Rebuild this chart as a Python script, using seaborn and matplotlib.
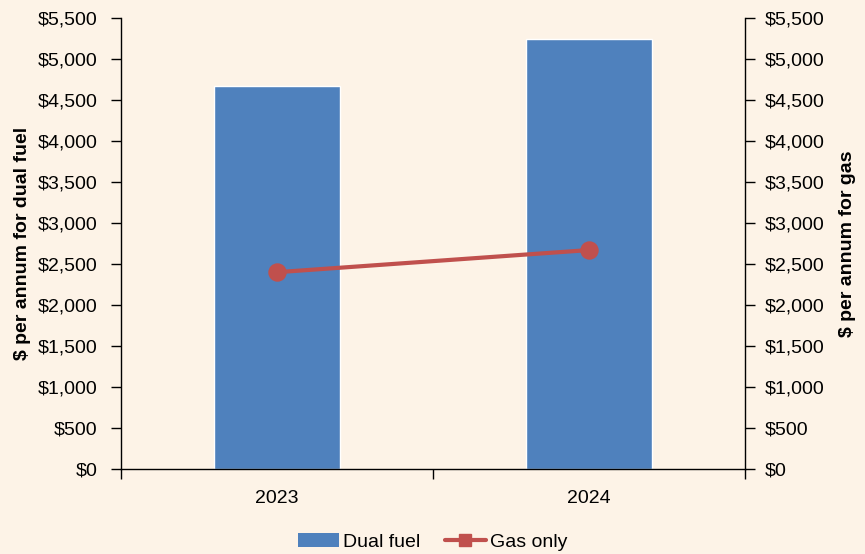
import matplotlib
matplotlib.use("Agg")
import matplotlib.pyplot as plt
import seaborn as sns
from matplotlib.patches import Patch
from matplotlib.lines import Line2D
from matplotlib.ticker import FuncFormatter, MultipleLocator

years = ["2023", "2024"]
dual_fuel = [4670, 5240]
gas_only = [2400, 2670]

bg = "#FDF3E7"
bar_color = "#4F81BD"
line_color = "#C0504D"

sns.set_style("white")
plt.rcParams["font.family"] = ["Liberation Sans", "DejaVu Sans"]
plt.rcParams["text.color"] = "black"
plt.rcParams["axes.labelcolor"] = "black"
plt.rcParams["xtick.color"] = "black"
plt.rcParams["ytick.color"] = "black"

fs = 14

fig = plt.figure(figsize=(8.65, 5.54), dpi=100, facecolor=bg)
ax = fig.add_axes([121/865, (554-469)/554, (745-121)/865, (469-18)/554])
ax.set_facecolor(bg)

sns.barplot(x=years, y=dual_fuel, ax=ax, color=bar_color, width=0.404, saturation=1)
ax.set_ylim(0, 5500)
ax.set_xlim(-0.5, 1.5)

ax2 = ax.twinx()
sns.pointplot(x=years, y=gas_only, ax=ax2, color=line_color, markers="o",
              markersize=11, linewidth=3)
ax2.set_ylim(0, 5500)
ax2.set_xlim(-0.5, 1.5)

fmt = FuncFormatter(lambda v, p: f"${v:,.0f}")
for a in (ax, ax2):
    a.yaxis.set_major_locator(MultipleLocator(500))
    a.yaxis.set_major_formatter(fmt)
    a.spines["top"].set_visible(False)
    for s in ["left", "right", "bottom"]:
        a.spines[s].set_color("black")
        a.spines[s].set_linewidth(1)

ax.spines["right"].set_visible(False)
ax2.spines["left"].set_visible(False)
ax2.spines["bottom"].set_visible(False)

ax.tick_params(axis="y", direction="out", length=7, width=1, labelsize=fs, left=True, pad=10)
ax2.tick_params(axis="y", direction="out", length=7, width=1, labelsize=fs, right=True, pad=7.5)
ax.set_xticks([0, 1])
ax.set_xticklabels(years)
ax.tick_params(axis="x", which="major", length=0, labelsize=fs, pad=15)
ax.set_xticks([-0.5, 0.5, 1.5], minor=True)
ax.tick_params(axis="x", which="minor", direction="out", length=7, width=1, bottom=True)

ax.set_ylabel("$ per annum for dual fuel", fontsize=fs, fontweight="bold", labelpad=5)
ax2.set_ylabel("$ per annum for gas", fontsize=fs, fontweight="bold", labelpad=10)
ax.set_xlabel("")
ax2.set_xlabel("")

handles = [Patch(facecolor=bar_color, edgecolor="none", label="Dual fuel"),
           Line2D([0], [0], color=line_color, lw=3, marker="s", markersize=8, label="Gas only")]
fig.legend(handles=handles, loc="lower center", bbox_to_anchor=(0.5, -0.026), ncol=2,
           frameon=False, fontsize=fs, handlelength=2.1, handletextpad=0.2, columnspacing=1.3)

fig.savefig("out.png", dpi=100, facecolor=bg)
